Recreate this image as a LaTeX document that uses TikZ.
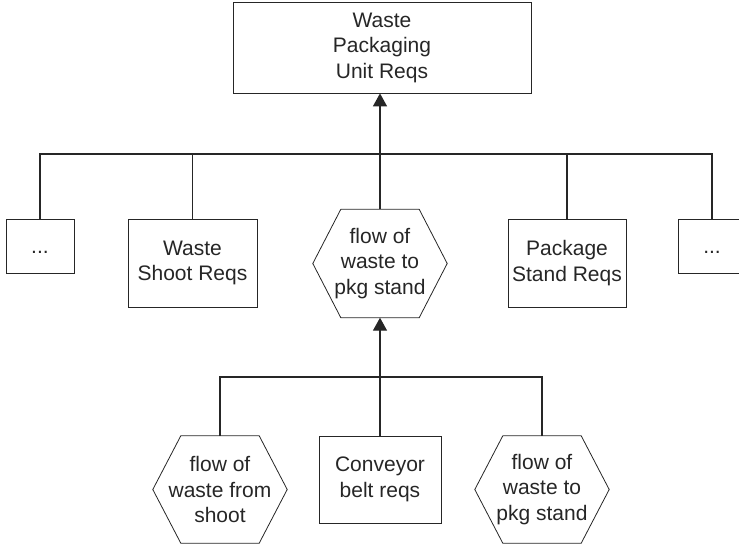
\documentclass[tikz,border=0pt]{standalone}
\usepackage{fontspec}
\setmainfont{Liberation Sans}
\usetikzlibrary{arrows.meta}
\definecolor{ink}{gray}{0.15}
\tikzset{
  txt/.style={font=\fontsize{21pt}{25.5pt}\selectfont, align=center, text=ink, inner sep=0pt},
  reqbox/.style={txt, draw=ink, line width=0.8pt, rectangle},
  dotbox/.style={reqbox, minimum width=68pt, minimum height=54pt, text height=15pt, text depth=0pt},
  hexbox/.style={txt, rectangle, minimum width=134pt, minimum height=108pt},
  conn/.style={draw=ink, line width=1.4pt},
  uparrow/.style={conn, -{Triangle[length=13pt,width=14pt]}},
}
\newcommand{\hexoutline}[1]{%
  \draw[draw=ink, line width=0.8pt]
    ([xshift=28pt]#1.north west) -- ([xshift=-28pt]#1.north east) -- (#1.east)
    -- ([xshift=-28pt]#1.south east) -- ([xshift=28pt]#1.south west) -- (#1.west) -- cycle;}
\begin{document}
\begin{tikzpicture}[x=1pt, y=-1pt]
  \clip (0,0) rectangle (739,546);

  % top requirement
  \node[reqbox, minimum width=298pt, minimum height=91pt] (top) at (382,47.5)
    {Waste\\Packaging\\Unit Reqs};

  % second level
  \node[dotbox] (ld) at (40,246) {...};
  \node[reqbox, minimum width=129pt, minimum height=88pt] (ws) at (192.5,263) {Waste\\Shoot Reqs};
  \node[hexbox] (hc) at (380,263.5) {flow of\\waste to\\pkg stand};
  \node[reqbox, minimum width=118pt, minimum height=88pt] (ps) at (567,263) {Package\\Stand Reqs};
  \node[dotbox] (rd) at (712,246) {...};

  % third level
  \node[hexbox, minimum height=107pt] (hl) at (220,489.5) {flow of\\waste from\\shoot};
  \node[reqbox, minimum width=122pt, minimum height=87pt] (cb) at (380,479.5) {Conveyor\\belt reqs};
  \node[hexbox, minimum height=107pt] (hr) at (542,489.5) {flow of\\waste to\\pkg stand};

  \hexoutline{hc}
  \hexoutline{hl}
  \hexoutline{hr}

  % upper bus
  \coordinate (ubus) at (380,154);
  \draw[conn] (ld.north) |- (ubus) -| (rd.north);
  \draw[conn] (ws.north) -- (ws.north |- ubus);
  \draw[conn] (ps.north) -- (ps.north |- ubus);
  \draw[uparrow] (hc.north) -- (top.south -| hc.north);

  % lower bus
  \coordinate (lbus) at (380,377);
  \draw[conn] (hl.north) |- (lbus) -| (hr.north);
  \draw[conn] (cb.north) -- (lbus);
  \draw[uparrow] (lbus) -- (hc.south);
\end{tikzpicture}
\end{document}
